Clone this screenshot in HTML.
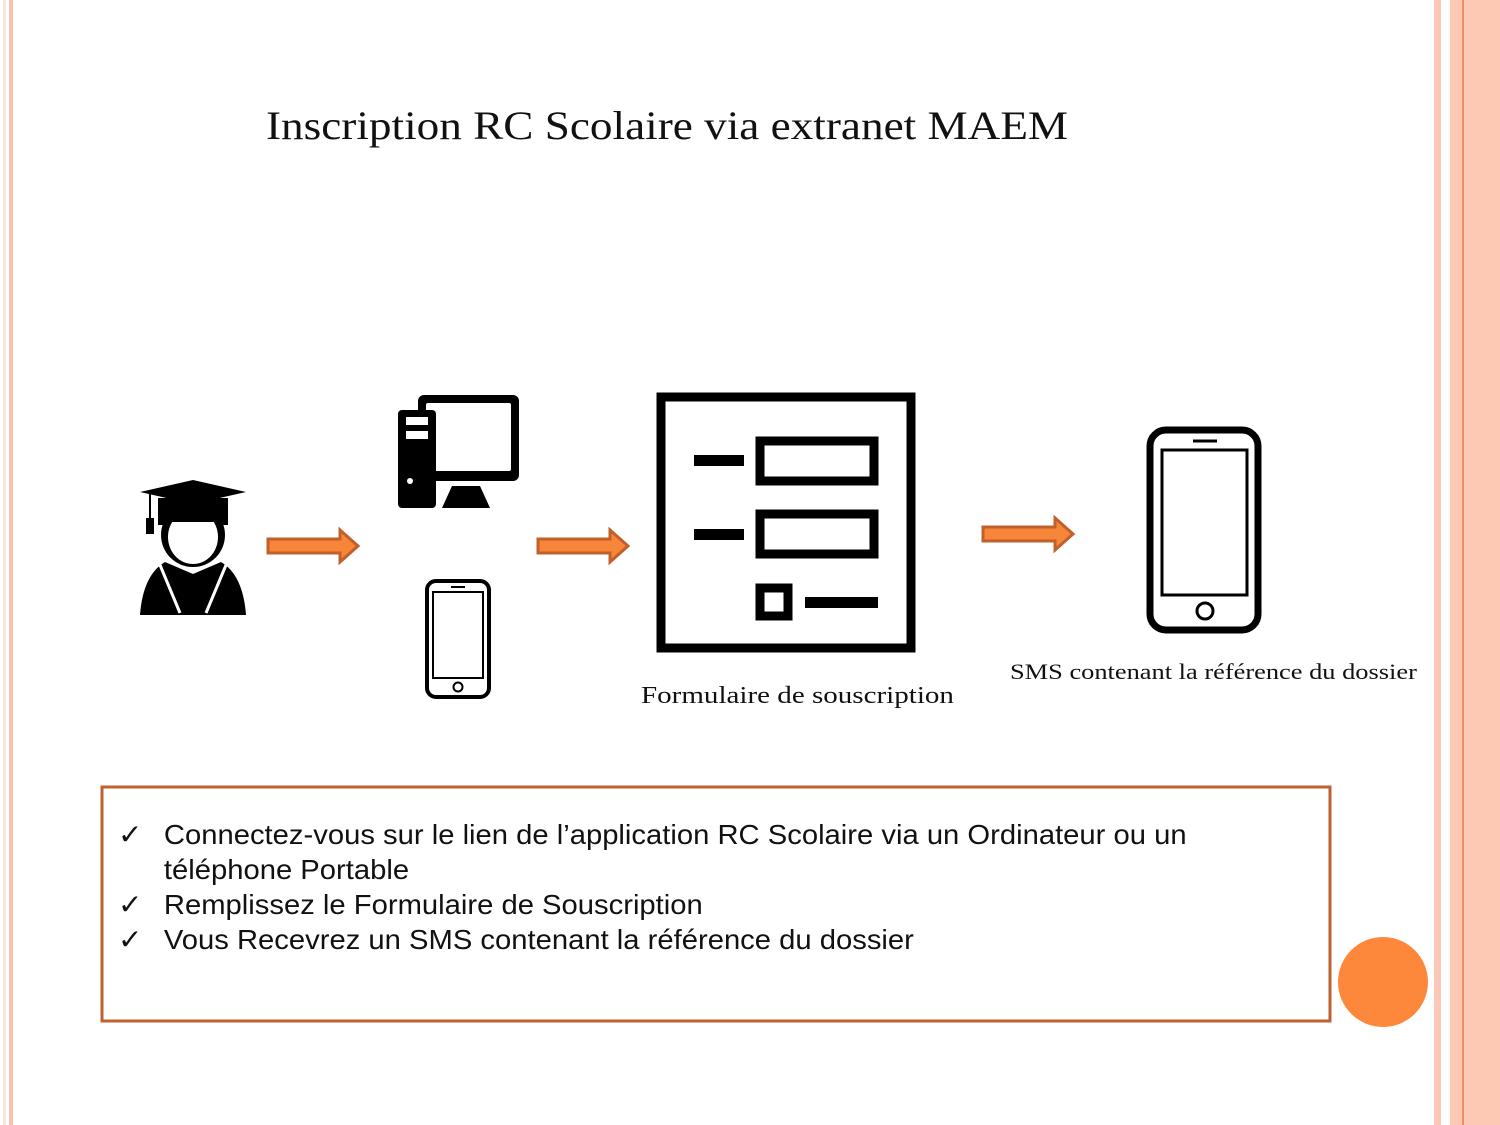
<!DOCTYPE html>
<html><head><meta charset="utf-8"><style>
body{margin:0;width:1500px;height:1125px;position:relative;background:#fff;overflow:hidden;font-family:"Liberation Sans",sans-serif}
.a{position:absolute}
.serif{font-family:"Liberation Serif",serif;color:#111;transform-origin:0 0;white-space:nowrap}
</style></head><body>
<div class="a" style="left:3px;top:0;width:3px;height:1125px;background:#fde3da"></div>
<div class="a" style="left:9px;top:0;width:4px;height:1125px;background:#f9c1ae"></div>
<div class="a" style="left:1434px;top:0;width:7px;height:1125px;background:#fbc9b8"></div>
<div class="a" style="left:1450px;top:0;width:50px;height:1125px;background:#fdc8b4"></div>
<div class="a" style="left:1462px;top:0;width:2px;height:1125px;background:#e8905f"></div>
<div class="a serif" style="left:266px;top:102px;font-size:40px;transform:scaleX(1.13)">Inscription RC Scolaire via extranet MAEM</div>
<svg class="a" style="left:0;top:0" width="1500" height="1125">
<defs><g id="arr"><path d="M0,-7 H72 V-16 L90,0 L72,16 V7 H0 Z" fill="#f7853a" stroke="#c0602a" stroke-width="3"/></g></defs>
<use href="#arr" x="268" y="546"/>
<use href="#arr" x="538" y="546"/>
<use href="#arr" x="983" y="534"/>
<path d="M140,492 L193,480 L246,492 L193,504 Z" fill="#000"/>
<path d="M158,498 H228 V525 H158 Z" fill="#000"/>
<line x1="150" y1="494" x2="150" y2="520" stroke="#000" stroke-width="2"/>
<rect x="146" y="518" width="8" height="16" fill="#000"/>
<ellipse cx="193" cy="535" rx="32" ry="32" fill="#000"/>
<ellipse cx="193" cy="537" rx="25" ry="27" fill="#fff"/>
<rect x="165" y="500" width="56" height="22" fill="#000"/>
<path d="M140,615 Q143,575 165,562 L193,574 L221,562 Q243,575 246,615 Z" fill="#000"/>
<path d="M160,565 L180,613 M226,565 L206,613" stroke="#fff" stroke-width="3"/>
<rect x="418" y="395" width="101" height="86" rx="6" fill="#000"/>
<rect x="426" y="403" width="85" height="68" rx="2" fill="#fff"/>
<path d="M452,486 H480 L490,508 H442 Z" fill="#000"/>
<rect x="398" y="410" width="38" height="98" rx="4" fill="#000"/>
<rect x="406" y="417" width="22" height="8" fill="#fff"/>
<rect x="406" y="431" width="22" height="8" fill="#fff"/>
<circle cx="410" cy="481" r="3" fill="#fff"/>
<rect x="427" y="581" width="62" height="116" rx="9" fill="none" stroke="#000" stroke-width="4"/>
<rect x="433" y="592" width="50" height="86" fill="none" stroke="#000" stroke-width="2"/>
<line x1="451" y1="587" x2="465" y2="587" stroke="#000" stroke-width="2"/>
<circle cx="458" cy="687" r="4.5" fill="none" stroke="#000" stroke-width="2"/>
<rect x="661" y="397" width="250" height="251" fill="none" stroke="#000" stroke-width="9"/>
<rect x="694" y="455" width="50" height="11" fill="#000"/>
<rect x="760" y="441" width="114" height="40" fill="none" stroke="#000" stroke-width="9"/>
<rect x="694" y="529" width="50" height="11" fill="#000"/>
<rect x="760" y="514" width="114" height="40" fill="none" stroke="#000" stroke-width="9"/>
<rect x="760" y="588" width="28" height="28" fill="none" stroke="#000" stroke-width="9"/>
<rect x="805" y="597" width="73" height="11" fill="#000"/>
<rect x="1150" y="430" width="108" height="200" rx="16" fill="none" stroke="#000" stroke-width="7"/>
<rect x="1162" y="450" width="85" height="145" fill="none" stroke="#000" stroke-width="3"/>
<line x1="1193" y1="441" x2="1217" y2="441" stroke="#000" stroke-width="3"/>
<circle cx="1205" cy="611" r="8" fill="none" stroke="#000" stroke-width="3"/>
<rect x="102" y="787" width="1228" height="234" fill="none" stroke="#bd6130" stroke-width="3"/>
<circle cx="1383" cy="982" r="45" fill="#fd883c"/>
</svg>
<div class="a serif" style="left:641px;top:683px;font-size:24px;transform:scaleX(1.21)">Formulaire de souscription</div>
<div class="a serif" style="left:1010px;top:659px;font-size:22px;transform:scaleX(1.2)">SMS contenant la référence du dossier</div>
<div class="a" style="left:118px;top:817px;font-size:28px;line-height:35px;color:#111;transform:scaleX(1.043);transform-origin:0 0;white-space:nowrap">
<div style="position:relative;padding-left:44px"><span style="position:absolute;left:0">✓</span>Connectez-vous sur le lien de l’application RC Scolaire via un Ordinateur ou un<br>téléphone Portable</div>
<div style="position:relative;padding-left:44px"><span style="position:absolute;left:0">✓</span>Remplissez le Formulaire de Souscription</div>
<div style="position:relative;padding-left:44px"><span style="position:absolute;left:0">✓</span>Vous Recevrez un SMS contenant la référence du dossier</div>
</div>
</body></html>
